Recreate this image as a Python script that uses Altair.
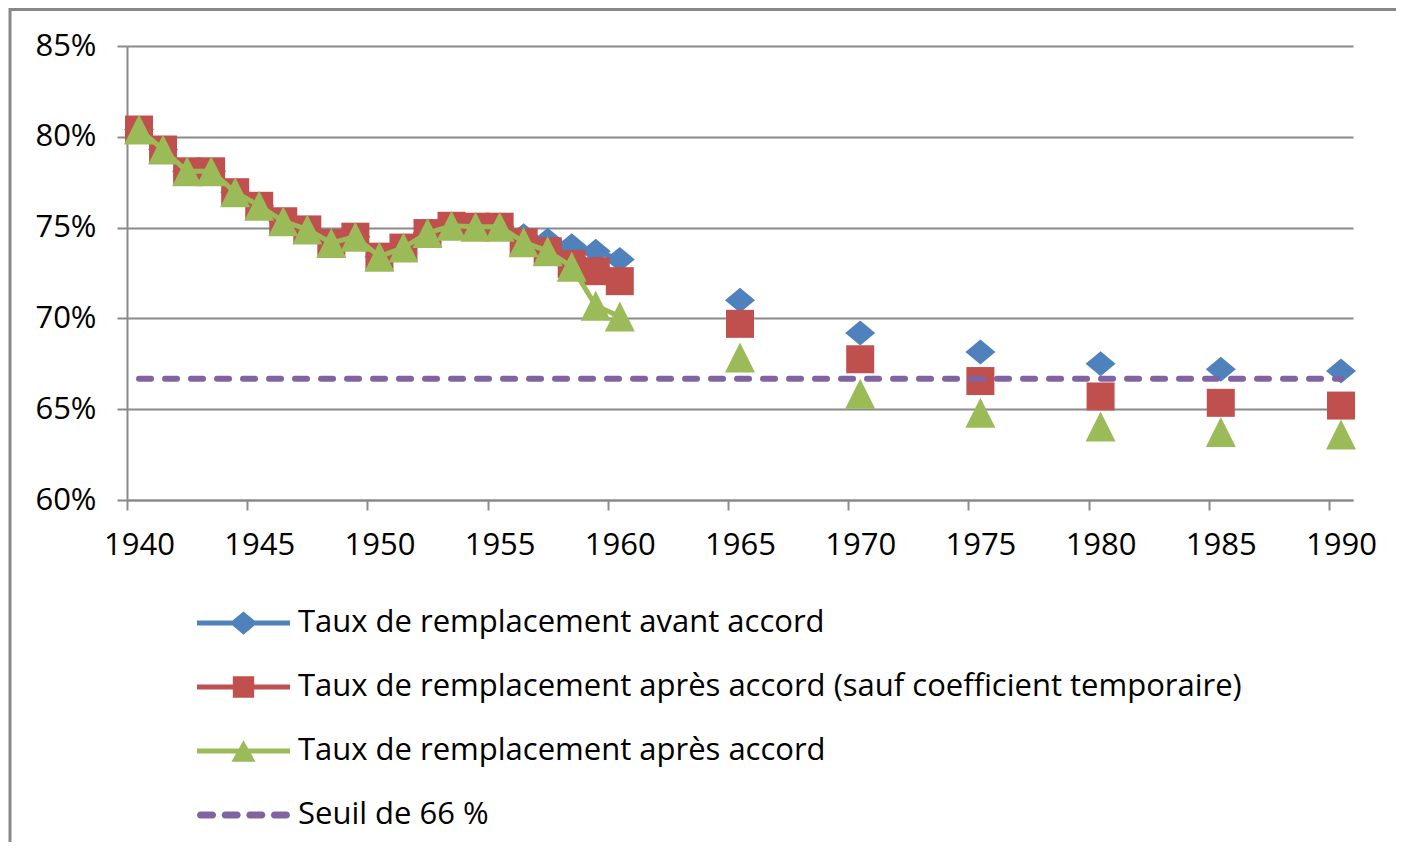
import altair as alt
import pandas as pd

# ---- data ----
years = list(range(1940, 1961)) + [1965, 1970, 1975, 1980, 1985, 1990]

avant = [80.4, 79.3, 78.1, 78.1, 76.95, 76.2, 75.35, 74.9, 74.15, 74.5, 73.4,
         73.9, 74.7, 75.1, 75.05, 75.05, 74.55, 74.3, 74.0, 73.7, 73.25,
         71.0, 69.2, 68.15, 67.5, 67.2, 67.1]
apres_sauf = [80.4, 79.3, 78.1, 78.1, 76.95, 76.2, 75.35, 74.9, 74.15, 74.5, 73.4,
              73.9, 74.7, 75.1, 75.05, 75.05, 74.2, 73.7, 73.0, 72.6, 72.05,
              69.7, 67.75, 66.55, 65.7, 65.35, 65.2]
apres = [80.4, 79.3, 78.1, 78.1, 76.95, 76.2, 75.35, 74.9, 74.15, 74.5, 73.4,
         73.9, 74.7, 75.1, 75.05, 75.05, 74.2, 73.7, 72.85, 70.7, 70.1,
         67.85, 65.85, 64.8, 64.05, 63.75, 63.6]

seuil_years = [1940, 1990]
seuil_value = 66.67

series_names = [
    "Taux de remplacement avant accord",
    "Taux de remplacement après accord (sauf coefficient temporaire)",
    "Taux de remplacement après accord",
    "Seuil de 66 %",
]
colors = ["#4F81BD", "#C0504D", "#9BBB59", "#8064A2"]

x_ticks = [1940, 1945, 1950, 1955, 1960, 1965, 1970, 1975, 1980, 1985, 1990]
y_ticks = [60, 65, 70, 75, 80, 85]

FONT = "Open Sans"
GRID = "#8a8a8a"

# marker shapes (unit box paths)
diamond = "M-1,0L0,-0.83L1,0L0,0.83Z"
square = "M-1,-1L1,-1L1,1L-1,1Z"
triangle = "M0,-1L1,1L-1,1Z"

# legend symbols: line + marker (unit = half of symbol width)
leg_line = "M-1,-0.055L1,-0.055L1,0.055L-1,0.055Z"
leg_paths = [
    leg_line + "M-0.3,0L0,-0.25L0.3,0L0,0.25Z",
    leg_line + "M-0.23,-0.23L0.23,-0.23L0.23,0.23L-0.23,0.23Z",
    leg_line + "M0,-0.23L0.26,0.23L-0.26,0.23Z",
    "M-0.925,-0.075L-0.665,-0.075A0.075,0.075 0 0 1 -0.665,0.075L-0.925,0.075A0.075,0.075 0 0 1 -0.925,-0.075Z"
    "M-0.395,-0.075L-0.135,-0.075A0.075,0.075 0 0 1 -0.135,0.075L-0.395,0.075A0.075,0.075 0 0 1 -0.395,-0.075Z"
    "M0.135,-0.075L0.395,-0.075A0.075,0.075 0 0 1 0.395,0.075L0.135,0.075A0.075,0.075 0 0 1 0.135,-0.075Z"
    "M0.665,-0.075L0.925,-0.075A0.075,0.075 0 0 1 0.925,0.075L0.665,0.075A0.075,0.075 0 0 1 0.665,-0.075Z",
]

x_enc = alt.X(
    "year:Q",
    scale=alt.Scale(domain=[1939.5, 1990.5], nice=False, zero=False),
    axis=alt.Axis(
        values=x_ticks, format="d", title=None, grid=False,
        tickOffset=-12, labelOffset=12, labelFlush=False, labelOverlap=False,
        tickSize=10, tickWidth=2, tickColor=GRID, domainColor=GRID, domainWidth=2,
        labelFont=FONT, labelFontSize=31, labelColor="black", labelPadding=20,
    ),
)
y_enc = alt.Y(
    "value:Q",
    scale=alt.Scale(domain=[60, 85], nice=False, zero=False),
    axis=alt.Axis(
        values=y_ticks, labelExpr="datum.value + '%'", title=None, grid=True,
        gridColor=GRID, gridWidth=2, tickSize=10, tickWidth=2, tickColor=GRID,
        domainColor=GRID, domainWidth=2,
        labelFont=FONT, labelFontSize=31, labelColor="black", labelPadding=21,
    ),
)

layers = []

# outer chart frame
frame_df = pd.DataFrame({"k": [0]})
layers.append(
    alt.Chart(frame_df).mark_rect(filled=False, stroke="#888888", strokeWidth=3).encode(
        x=alt.value(-117), x2=alt.value(1400), y=alt.value(-36.5), y2=alt.value(900)
    )
)

specs = [
    (avant, colors[0], diamond, 900),
    (apres_sauf, colors[1], square, 784),
    (apres, colors[2], triangle, 900),
]
for name, (vals, col, shp, sz) in zip(series_names, specs):
    d = pd.DataFrame({"year": years, "value": vals, "series": name})
    base = alt.Chart(d)
    layers.append(
        base.transform_filter(alt.datum.year <= 1960)
        .mark_line(color=col, strokeWidth=5, strokeJoin="round", strokeCap="round")
        .encode(x=x_enc, y=y_enc)
    )
    layers.append(
        base.mark_point(filled=True, shape=shp, size=sz, color=col, opacity=1, strokeWidth=0)
        .encode(x=x_enc, y=y_enc)
    )

seuil_df = pd.DataFrame({"year": seuil_years, "value": [seuil_value] * len(seuil_years)})
layers.append(
    alt.Chart(seuil_df)
    .mark_line(color=colors[3], strokeWidth=6, strokeDash=[12, 14], strokeCap="round")
    .encode(x=x_enc, y=y_enc)
)

# legend layer (symbols drawn off-canvas, legend built from the series list)
leg_df = pd.DataFrame({"series": series_names})
legend = alt.Legend(
    orient="none", legendX=70, legendY=557, direction="vertical", title=None,
    labelFont=FONT, labelFontSize=31, labelColor="black", labelOffset=8,
    labelLimit=1300, symbolSize=8649, symbolStrokeWidth=0, symbolOpacity=1,
    clipHeight=40, rowPadding=24, padding=0,
)
layers.append(
    alt.Chart(leg_df)
    .mark_point(filled=True, opacity=1, size=8649)
    .encode(
        x=alt.value(-5000), y=alt.value(-5000),
        color=alt.Color("series:N", scale=alt.Scale(domain=series_names, range=colors), legend=legend, sort=series_names),
        shape=alt.Shape("series:N", scale=alt.Scale(domain=series_names, range=leg_paths), legend=legend, sort=series_names),
    )
)

chart = (
    alt.layer(*layers)
    .properties(
        width=1226, height=454,
        autosize=alt.AutoSizeParams(type="none"),
        padding={"left": 119, "top": 38, "right": 43, "bottom": 342},
    )
    .configure_view(stroke=None)
)

chart.save("out.html", embed_options={"renderer": "svg", "actions": False})
